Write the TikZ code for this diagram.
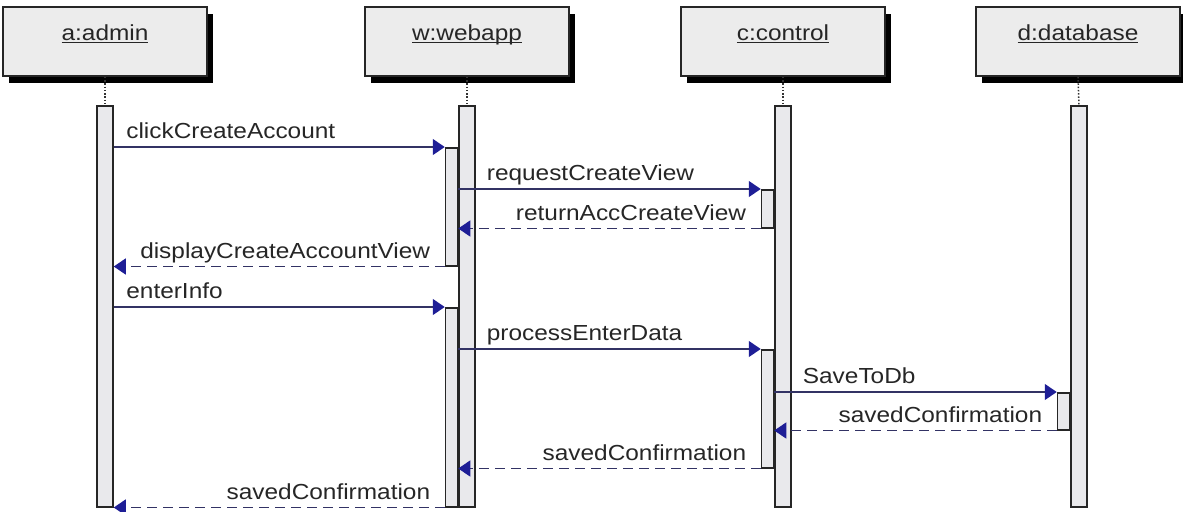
\documentclass[tikz,border=0pt]{standalone}
\usepackage{fontspec}
\setmainfont{Liberation Sans}[FakeStretch=1.12]
\usepackage{tikz}
\usetikzlibrary{arrows.meta, positioning, shadows}

\definecolor{boxfill}{RGB}{236,236,236}
\definecolor{barfill}{RGB}{233,233,236}
\definecolor{msgline}{RGB}{50,50,100}
\definecolor{tipblue}{RGB}{30,30,150}

\tikzset{
	objbox/.style={draw=black!85, line width=0.35mm, fill=boxfill, minimum width=40.8mm, minimum height=13.8mm, inner sep=0pt,
		drop shadow={shadow xshift=1.2mm, shadow yshift=-1.3mm, fill=black, opacity=1}},
	objlbl/.style={anchor=base, inner sep=0pt, text=black!85},
	lifeline/.style={densely dotted, line width=0.3mm, black!80},
	actbar/.style={draw=black!85, line width=0.3mm, fill=barfill, inner sep=0pt, minimum width=3.2mm, anchor=north},
	subbar/.style={actbar, minimum width=2.4mm, anchor=north east},
	msg/.style={msgline, line width=0.25mm, -{Triangle[length=2.4mm, width=3.2mm, color=tipblue]}},
	ret/.style={msg, dash pattern=on 2mm off 1.2mm},
	fwdlbl/.style={pos=0, anchor=base west, xshift=#1, yshift=1.7mm, inner sep=0pt, text=black!85},
	fwdlbl/.default=2.4mm,
	retlbl/.style={pos=0, anchor=base east, xshift=-2.8mm, yshift=1.7mm, inner sep=0pt, text=black!85}
}

\begin{document}
\begin{tikzpicture}[x=0.2mm, y=-0.2mm, font=\fontsize{12.4}{14}\selectfont]
	\useasboundingbox (0,0) rectangle (1183,511);

	\node[objbox] (admin) at (105,41.5) {};
	\node[objbox] (webapp) at (467,41.5) {};
	\node[objbox] (control) at (783,41.5) {};
	\node[objbox] (database) at (1078,41.5) {};
	\node[objlbl] (admintxt) at (105,40) {\underline{\smash{a:admin}}};
	\node[objlbl] (webapptxt) at (467,40) {\underline{\smash{w:webapp}}};
	\node[objlbl] (controltxt) at (783,40) {\underline{\smash{c:control}}};
	\node[objlbl] (databasetxt) at (1078,40) {\underline{\smash{d:database}}};

	\node[actbar, minimum height=80.2mm] (abar) at (105,105) {};
	\node[actbar, minimum height=80.2mm] (wbar) at (467,105) {};
	\node[actbar, minimum height=80.2mm] (cbar) at (783,105) {};
	\node[actbar, minimum height=80.2mm] (dbar) at (1079,105) {};
	\draw[lifeline] (admin.south) -- (abar.north);
	\draw[lifeline] (webapp.south) -- (wbar.north);
	\draw[lifeline] (control.south) -- (cbar.north);
	\draw[lifeline] (database.south) -- (dbar.north);

	\node[subbar, minimum height=23.6mm] (wact1) at (wbar.west |- 0,147) {};
	\node[subbar, minimum height=7.6mm] (cact1) at (cbar.west |- 0,189) {};
	\node[subbar, minimum height=39.8mm] (wact2) at (wbar.west |- 0,307) {};
	\node[subbar, minimum height=23.6mm] (cact2) at (cbar.west |- 0,349) {};
	\node[subbar, minimum height=7.4mm] (dact1) at (dbar.west |- 0,392) {};

	\draw[msg] (abar.east |- 0,147) -- node[fwdlbl] (m1) {clickCreateAccount} (wact1.north west);
	\draw[msg] (wact1.north east |- 0,189) -- node[fwdlbl=5.6mm] (m2) {requestCreateView} (cact1.north west);
	\draw[ret] (cact1.south west) -- node[retlbl] (m3) {returnAccCreateView} (wact1.east |- cact1.south);
	\draw[ret] (wact1.south west) -- node[retlbl] (m4) {displayCreateAccountView} (abar.east |- wact1.south);
	\draw[msg] (abar.east |- 0,307) -- node[fwdlbl] (m5) {enterInfo} (wact2.north west);
	\draw[msg] (wact2.north east |- 0,349) -- node[fwdlbl=5.6mm] (m6) {processEnterData} (cact2.north west);
	\draw[msg] (cact2.north east |- 0,392) -- node[fwdlbl=5.6mm] (m7) {SaveToDb} (dact1.north west);
	\draw[ret] (dact1.south west) -- node[retlbl] (m8) {savedConfirmation} (cact2.east |- dact1.south);
	\draw[ret] (cact2.south west) -- node[retlbl] (m9) {savedConfirmation} (wact2.east |- cact2.south);
	\draw[ret] (wact2.south west) -- node[retlbl] (m10) {savedConfirmation} (abar.east |- wact2.south);
\end{tikzpicture}
\end{document}
